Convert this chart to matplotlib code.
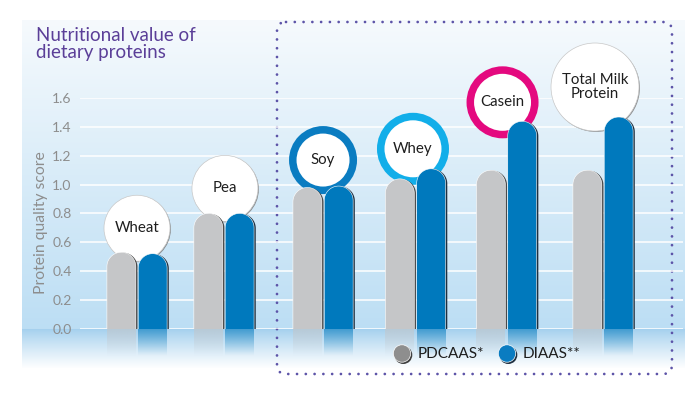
import numpy as np
import matplotlib
matplotlib.use("Agg")
import matplotlib.pyplot as plt
from matplotlib.patches import FancyBboxPatch, Ellipse, Circle, Polygon
from matplotlib.colors import to_rgb

# ---------------- data ----------------
categories = ["Wheat", "Pea", "Soy", "Whey", "Casein", "Total Milk\nProtein"]
pdcaas = [0.53, 0.80, 0.98, 1.04, 1.10, 1.10]
diaas = [0.52, 0.80, 0.99, 1.11, 1.44, 1.47]
series_names = ["PDCAAS*", "DIAAS**"]
yticks = [0.0, 0.2, 0.4, 0.6, 0.8, 1.0, 1.2, 1.4, 1.6]
ytick_labels = ["0.0", "0.2", "0.4", "0.6", "0.8", "1.0", "1.2", "1.4", "1.6"]
title = "Nutritional value of\ndietary proteins"
ylabel = "Protein quality score"

# ---------------- layout / style ----------------
group_x = [0, 0.933, 1.996, 2.988, 3.965, 5.0]
ring_colors = [None, None, "#0a7cc1", "#12aee9", "#e4097f", None]
bubble_dx_px = [0, 1, 0, -2.5, -4, -8]
bubble_dy_px = [24, 25, 26, 20, 19, 30]
bubble_r_px = [33, 33, 34, 36, 36, 44]
grey = "#c5c6c8"
blue = "#0079bd"
purple = "#5b3f98"
font = ["Lato", "DejaVu Sans"]
plt.rcParams["font.family"] = font

W, H = 695, 397
fig = plt.figure(figsize=(W / 100, H / 100), dpi=100)

# background axes in pixel coordinates (y downwards)
bg = fig.add_axes([0, 0, 1, 1])
bg.axis("off")

top_y, zero_y, end_y = 20, 328.5, 368
ys = np.arange(top_y, end_y)
c_top = np.array(to_rgb("#f6fafd"))
c_zero = np.array(to_rgb("#bcdef4"))
c_band = np.array(to_rgb("#a4d0ee"))
c_end = np.array([1.0, 1.0, 1.0])
rows = []
for y in ys:
    if y < zero_y:
        t = (y - top_y) / (zero_y - top_y)
        rows.append(c_top * (1 - t) + c_zero * t)
    else:
        t = (y - zero_y) / (end_y - zero_y)
        t = t ** 0.9
        rows.append(c_band * (1 - t) + c_end * t)
grad = np.array(rows)[:, None, :]
bg.imshow(grad, extent=[22, 685, end_y, top_y], aspect="auto", interpolation="bilinear", zorder=0)

# dotted rounded box
box = FancyBboxPatch((277, 22), 672 - 277, 374 - 22,
                     boxstyle="round,pad=0,rounding_size=9",
                     facecolor="none", edgecolor="#5d54a8", linewidth=2.0,
                     linestyle=(0, (0.01, 3.15)), capstyle="round", zorder=5)
bg.add_patch(box)

# title and y-label
fig.text(36 / W, 1 - 27 / H, title, color=purple, fontsize=13.5, va="top", ha="left",
         linespacing=1.0)
fig.text(41 / W, 1 - 223 / H, ylabel, color="#8d8d8d", fontsize=11.3, rotation=90,
         ha="center", va="center")

# ---------------- main axes ----------------
ax_l, ax_r = 80, 683
ax_b, ax_t = 328.5, 98.3
ax = fig.add_axes([ax_l / W, 1 - ax_b / H, (ax_r - ax_l) / W, (ax_b - ax_t) / H])
ax.patch.set_alpha(0)
px_per_x = 93.2
x0_px = 137 - ax_l
xmin = -x0_px / px_per_x
xmax = xmin + (ax_r - ax_l) / px_per_x
ax.set_xlim(xmin, xmax)
ax.set_ylim(0, 1.6)
px_per_y = (ax_b - ax_t) / 1.6
for s in ax.spines.values():
    s.set_visible(False)
ax.set_xticks([])
ax.set_yticks(yticks)
ax.set_yticklabels(ytick_labels)
ax.tick_params(axis="y", length=0, pad=6, labelsize=10, labelcolor="#8d8d8d")
ax.yaxis.grid(True, color="white", linewidth=1.1)
ax.set_axisbelow(True)

xs = np.array(group_x)
off = 0.168
bw = 0.31
bars_g = ax.bar(xs - off, pdcaas, bw, color="none", edgecolor="none")
bars_b = ax.bar(xs + off, diaas, bw, color="none", edgecolor="none")


def dome_poly(x, w, h, bottom=-0.05):
    rx = w / 2
    ry = rx * px_per_x / px_per_y
    t = np.linspace(np.pi, 0, 48)
    arc_x = x + rx + rx * np.cos(t)
    arc_y = h - ry + ry * np.sin(t)
    vx = np.concatenate([[x], arc_x, [x + w]])
    vy = np.concatenate([[bottom], arc_y, [bottom]])
    return np.column_stack([vx, vy])


def to_px(xd, yd):
    d = ax.transData.transform((xd, yd))
    return d[0], H - d[1]


def rounded_bar(rect, color, shade):
    x = rect.get_x()
    w = rect.get_width()
    h = rect.get_height()
    dx = 1.7 / px_per_x
    sh = Polygon(dome_poly(x + dx, w, h - 0.4 / px_per_y), closed=True,
                 facecolor=shade, edgecolor="none", zorder=4)
    ax.add_patch(sh)
    p = Polygon(dome_poly(x, w, h), closed=True, facecolor=color,
                edgecolor="white", linewidth=0.4, zorder=5)
    ax.add_patch(p)
    # reflection below the baseline, drawn on the background axes
    px0, _ = to_px(x, 0)
    px1, py0 = to_px(x + w, 0)
    n = 60
    refl = np.zeros((n, 1, 4))
    refl[:, 0, :3] = to_rgb(color)
    refl[:, 0, 3] = 0.62 * np.linspace(1, 0, n) ** 1.1
    bg.imshow(refl, extent=[px0, px1, py0 + 28, py0], aspect="auto",
              interpolation="bilinear", zorder=1)


for r in bars_g:
    rounded_bar(r, grey, "#4a4a4a")
for r in bars_b:
    rounded_bar(r, blue, "#1e2f3f")

bg.set_xlim(0, W)
bg.set_ylim(H, 0)

# bubbles
for i, name in enumerate(categories):
    cx = xs[i] + bubble_dx_px[i] / px_per_x
    top = max(pdcaas[i], diaas[i])
    cy = top + bubble_dy_px[i] / px_per_y
    r = bubble_r_px[i]
    if ring_colors[i] is None:
        shadow = Ellipse((cx + 0.9 / px_per_x, cy - 0.9 / px_per_y), 2 * r / px_per_x,
                         2 * r / px_per_y, facecolor="#777777", edgecolor="none",
                         alpha=0.8, zorder=1.5, clip_on=False)
        ax.add_patch(shadow)
        e = Ellipse((cx, cy), 2 * r / px_per_x, 2 * r / px_per_y, facecolor="white",
                    edgecolor="#c8c8c8", linewidth=0.5, zorder=2, clip_on=False)
        ax.add_patch(e)
    else:
        ring_w = 7.5
        rr = r - ring_w / 2
        e = Ellipse((cx, cy), 2 * rr / px_per_x, 2 * rr / px_per_y, facecolor="white",
                    edgecolor=ring_colors[i], linewidth=ring_w * 0.72, zorder=2, clip_on=False)
        ax.add_patch(e)
    ax.text(cx, cy, name, ha="center", va="center", fontsize=10.8, color="#1e1e1e",
            linespacing=0.95, zorder=2.5, clip_on=False)

ax.set_xlim(xmin, xmax)
ax.set_ylim(0, 1.6)

# legend (pixel coordinates on an overlay axes)
leg = fig.add_axes([0, 0, 1, 1])
leg.set_xlim(0, W)
leg.set_ylim(H, 0)
leg.axis("off")
leg.patch.set_alpha(0)
for (cxp, col, shade, tx, lab) in [(402, "#8e8e8e", "#404040", 418, series_names[0]),
                                     (507, "#0a7cc1", "#203040", 523, series_names[1])]:
    leg.add_patch(Circle((cxp + 1.3, 354 + 1.0), 9, facecolor=shade, edgecolor="none", zorder=1))
    leg.add_patch(Circle((cxp, 353.5), 8.7, facecolor=col, edgecolor="white", linewidth=0.5, zorder=2))
    leg.text(tx, 354, lab, ha="left", va="center", fontsize=11, color="#1e1e1e")

fig.savefig("out.png", dpi=100)
